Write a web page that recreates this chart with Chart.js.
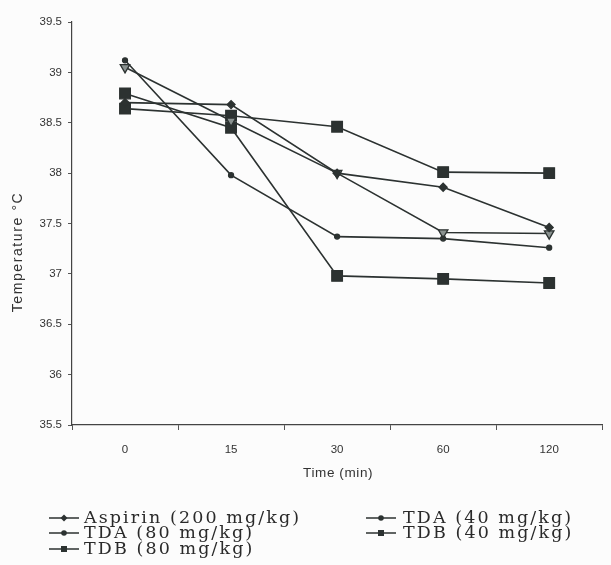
<!DOCTYPE html>
<html><head><meta charset="utf-8">
<script src="https://cdn.jsdelivr.net/npm/chart.js@4"></script>
<style>
html,body{margin:0;padding:0;background:#fcfcfc;}
#wrap{position:relative;width:611px;height:565px;overflow:hidden;background:#fcfcfc;}
canvas{position:absolute;left:0;top:0;}
.leg{position:absolute;font-family:"DejaVu Serif",serif;font-size:17.5px;letter-spacing:2.1px;color:#2a2a2a;white-space:nowrap;line-height:16px;}
.mk{position:absolute;}
</style></head>
<body><div id="wrap"><canvas id="c" width="611" height="565"></canvas><div id="legend"></div></div>
<script>
const categories = ['0', '15', '30', '60', '120'];
const yTicks = [35.5, 36, 36.5, 37, 37.5, 38, 38.5, 39, 39.5];
const seriesNames = ['Aspirin (200 mg/kg)', 'TDA (40 mg/kg)', 'TDA (80 mg/kg)', 'TDB (40 mg/kg)', 'TDB (80 mg/kg)'];
const aspirin200 = [38.70, 38.68, 38.00, 37.86, 37.46];
const tda40 = [39.12, 37.98, 37.37, 37.35, 37.26];
const tda80 = [39.05, 38.52, 38.00, 37.41, 37.40];
const tdb40 = [38.64, 38.57, 38.46, 38.01, 38.00];
const tdb80 = [38.79, 38.45, 36.98, 36.95, 36.91];
const xTitle = 'Time (min)';
const yTitle = 'Temperature °C';

const lineColor = '#2c3231';
const styles = [
  {pointStyle: 'rectRot', radius: 4, fill: lineColor, rot: 0},
  {pointStyle: 'circle', radius: 2.5, fill: lineColor, rot: 0},
  {pointStyle: 'triangle', radius: 5.5, fill: '#8a9290', rot: 180},
  {pointStyle: 'rect', radius: 7.5, fill: lineColor, rot: 0},
  {pointStyle: 'rect', radius: 7.5, fill: lineColor, rot: 0}
];
const values = [aspirin200, tda40, tda80, tdb40, tdb80];

const datasets = values.map((v, i) => ({
  label: seriesNames[i],
  data: v,
  borderColor: lineColor,
  borderWidth: 1.6,
  pointStyle: styles[i].pointStyle,
  pointRadius: styles[i].radius,
  pointRotation: styles[i].rot,
  pointBackgroundColor: styles[i].fill,
  pointBorderColor: lineColor,
  pointBorderWidth: 1.3,
  tension: 0,
  fill: false
}));

const titlePlugin = {
  id: 'axisTitles',
  afterDraw(chart) {
    const ctx = chart.ctx;
    const a = chart.chartArea;
    ctx.save();
    ctx.fillStyle = '#333';
    ctx.font = '13.5px "Liberation Sans", Arial, sans-serif';
    ctx.textAlign = 'center';
    ctx.textBaseline = 'middle';
    ctx.letterSpacing = '0.6px';
    ctx.fillText(xTitle, (a.left + a.right) / 2 + 1, 473);
    ctx.translate(18, 252);
    ctx.rotate(-Math.PI / 2);
    ctx.font = '14px "Liberation Sans", Arial, sans-serif';
    ctx.letterSpacing = '1.6px';
    ctx.fillText(yTitle, 0, 0);
    ctx.restore();
  }
};

const chart = new Chart(document.getElementById('c'), {
  type: 'line',
  data: {labels: categories, datasets},
  options: {
    responsive: false,
    animation: false,
    devicePixelRatio: 1,
    layout: {padding: {top: 22, left: 0, right: 0, bottom: 0}},
    plugins: {legend: {display: false}, tooltip: {enabled: false}, title: {display: false}},
    scales: {
      x: {
        type: 'category',
        offset: true,
        grid: {display: true, drawOnChartArea: false, drawTicks: true, tickLength: 5, offset: true, color: '#555'},
        border: {display: true, color: '#444', width: 1.2},
        ticks: {padding: 13, color: '#333', font: {family: '"Liberation Sans", Arial, sans-serif', size: 11.5}},
        afterFit(s) { s.height = 140; }
      },
      y: {
        min: yTicks[0],
        max: yTicks[yTicks.length - 1],
        afterBuildTicks(s) { s.ticks = yTicks.map(v => ({value: v})); },
        grid: {display: true, drawOnChartArea: false, drawTicks: true, tickLength: 4, color: '#555'},
        border: {display: true, color: '#444', width: 1.2},
        ticks: {padding: 6, color: '#333', font: {family: '"Liberation Sans", Arial, sans-serif', size: 11.5},
          callback: v => String(v)},
        afterFit(s) { s.width = 72; }
      }
    }
  },
  plugins: [titlePlugin]
});

// HTML legend, two columns, built from the datasets
const legendPos = [
  {mx: 49, tx: 84, cy: 518},
  {mx: 366, tx: 403, cy: 518},
  {mx: 49, tx: 84, cy: 533},
  {mx: 366, tx: 403, cy: 533},
  {mx: 49, tx: 84, cy: 549}
];
const legMarks = ['diamond', 'dot', 'dot', 'square', 'square'];
const legend = document.getElementById('legend');
chart.data.datasets.forEach((ds, i) => {
  const p = legendPos[i];
  const svgNS = 'http://www.w3.org/2000/svg';
  const svg = document.createElementNS(svgNS, 'svg');
  svg.setAttribute('width', 30); svg.setAttribute('height', 10);
  svg.setAttribute('class', 'mk');
  svg.style.left = p.mx + 'px'; svg.style.top = (p.cy - 5) + 'px';
  const ln = document.createElementNS(svgNS, 'line');
  ln.setAttribute('x1', 0); ln.setAttribute('y1', 5); ln.setAttribute('x2', 30); ln.setAttribute('y2', 5);
  ln.setAttribute('stroke', lineColor); ln.setAttribute('stroke-width', 1.5);
  svg.appendChild(ln);
  let m;
  if (legMarks[i] === 'diamond') {
    m = document.createElementNS(svgNS, 'polygon');
    m.setAttribute('points', '15,1.5 18.5,5 15,8.5 11.5,5');
  } else if (legMarks[i] === 'dot') {
    m = document.createElementNS(svgNS, 'circle');
    m.setAttribute('cx', 15); m.setAttribute('cy', 5); m.setAttribute('r', 2.8);
  } else {
    m = document.createElementNS(svgNS, 'rect');
    m.setAttribute('x', 12); m.setAttribute('y', 2); m.setAttribute('width', 6); m.setAttribute('height', 6);
  }
  m.setAttribute('fill', lineColor);
  svg.appendChild(m);
  legend.appendChild(svg);
  const t = document.createElement('div');
  t.className = 'leg';
  t.textContent = ds.label;
  t.style.left = p.tx + 'px'; t.style.top = (p.cy - 9) + 'px';
  legend.appendChild(t);
});
</script>
</body></html>
